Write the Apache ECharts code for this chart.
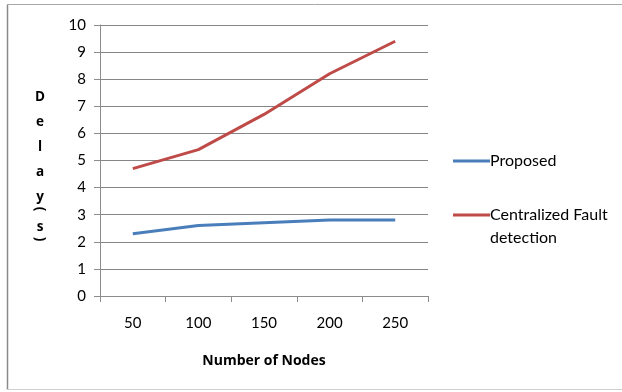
<!DOCTYPE html>
<html>
<head>
<meta charset="utf-8">
<style>
  html, body { margin: 0; padding: 0; background: #ffffff; }
  #chart { width: 622px; height: 392px; }
</style>
<script src="https://cdn.jsdelivr.net/npm/echarts@6/dist/echarts.min.js"></script>
</head>
<body>
<div id="chart"></div>
<script>
// Delay (s) versus number of nodes
const nodes = ['50', '100', '150', '200', '250'];
const proposed = [2.3, 2.6, 2.7, 2.8, 2.8];
const centralized = [4.7, 5.4, 6.7, 8.2, 9.4];
const yTicks = { min: 0, max: 10, interval: 1 };

const FONT = 'Lato, "Open Sans", sans-serif';
const BOLD_FONT = '"Open Sans", "Noto Sans", sans-serif';
const BLUE = '#4a7ebb';
const RED = '#be4b48';
const AXIS_GRAY = '#8c8c8c';

const legendText = {
  'Proposed': 'Proposed',
  // leading empty line keeps the first text line level with the legend line
  'Centralized Fault detection': '\nCentralized Fault\ndetection'
};

const chart = echarts.init(document.getElementById('chart'), null, { renderer: 'canvas' });

// stacked vertical axis title, with the brackets turned sideways
const titleLetters = [
  { t: 'D', y: 97 }, { t: 'e', y: 122 }, { t: 'l', y: 147 }, { t: 'a', y: 172 },
  { t: 'y', y: 197 }, { t: '(', y: 209, rot: true }, { t: 's', y: 227 }, { t: ')', y: 239, rot: true }
];
const titleGraphics = titleLetters.map(function (l) {
  return {
    type: 'text',
    x: 40, y: l.y,
    rotation: l.rot ? -Math.PI / 2 : 0,
    style: {
      text: l.t, fill: '#000', font: 'bold 13.5px ' + BOLD_FONT,
      align: 'center', verticalAlign: 'middle'
    }
  };
});

chart.setOption({
  animation: false,
  backgroundColor: '#ffffff',
  grid: { left: 100, right: 194, top: 25, bottom: 96, containLabel: false },
  xAxis: {
    type: 'category',
    data: nodes,
    boundaryGap: true,
    name: 'Number of Nodes',
    nameLocation: 'middle',
    nameGap: 58,
    nameTextStyle: { color: '#000', fontFamily: BOLD_FONT, fontWeight: 'bold', fontSize: 14 },
    axisLine: { show: true, lineStyle: { color: AXIS_GRAY, width: 1 } },
    axisTick: { show: true, length: 6, alignWithLabel: false, lineStyle: { color: AXIS_GRAY } },
    axisLabel: { color: '#000', fontFamily: FONT, fontSize: 15, margin: 20 },
    splitLine: { show: false }
  },
  yAxis: {
    type: 'value',
    min: yTicks.min, max: yTicks.max, interval: yTicks.interval,
    axisLine: { show: true, lineStyle: { color: AXIS_GRAY, width: 1 } },
    axisTick: { show: true, length: 6, inside: false, lineStyle: { color: AXIS_GRAY } },
    axisLabel: { color: '#000', fontFamily: FONT, fontSize: 15, margin: 14 },
    splitLine: { show: true, lineStyle: { color: '#868686', width: 1 } }
  },
  legend: {
    orient: 'vertical',
    left: 453, top: 149.5,
    padding: 0,
    itemWidth: 37, itemHeight: 3,
    itemGap: 8,
    icon: 'rect',
    formatter: function (name) { return legendText[name]; },
    textStyle: { color: '#000', fontFamily: FONT, fontSize: 16, lineHeight: 23, padding: [0, 0, 0, -5] },
    data: ['Proposed', 'Centralized Fault detection']
  },
  series: [
    {
      name: 'Proposed', type: 'line', data: proposed,
      symbol: 'none', lineStyle: { color: BLUE, width: 3 }, itemStyle: { color: BLUE }
    },
    {
      name: 'Centralized Fault detection', type: 'line', data: centralized,
      symbol: 'none', lineStyle: { color: RED, width: 3 }, itemStyle: { color: RED }
    }
  ],
  graphic: [
    // outer chart frame
    { type: 'line', shape: { x1: 7.5, y1: 5, x2: 7.5, y2: 390 }, style: { stroke: '#8a8a8a', lineWidth: 1.5 } },
    { type: 'line', shape: { x1: 7, y1: 4.5, x2: 622, y2: 4.5 }, style: { stroke: '#a8a8a8', lineWidth: 1 } },
    { type: 'line', shape: { x1: 7, y1: 389.5, x2: 622, y2: 389.5 }, style: { stroke: '#d0d0d0', lineWidth: 1 } }
  ].concat(titleGraphics)
});
</script>
</body>
</html>
